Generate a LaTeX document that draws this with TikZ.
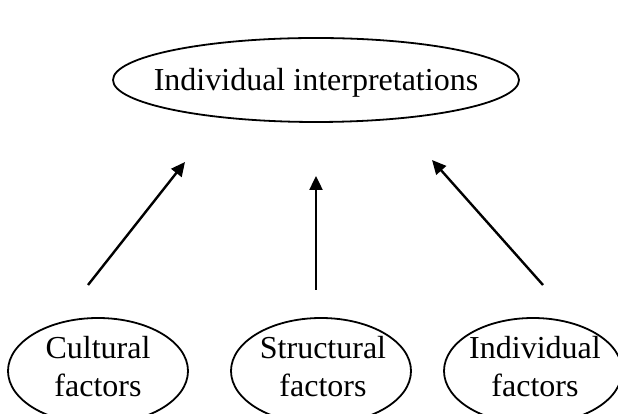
\documentclass[tikz,border=0pt]{standalone}
\usepackage{fontspec}
\setmainfont{Liberation Serif}
\usetikzlibrary{arrows.meta,shapes.geometric}
\begin{document}
\begin{tikzpicture}[x=1pt,y=1pt,
  oval/.style={ellipse, draw, line width=1.8pt, inner sep=0pt},
  label text/.style={inner sep=0pt, align=center,
    font=\fontsize{32}{38}\selectfont},
  influence/.style={line width=2.4pt, -{Triangle[length=14pt,width=13pt]}}]
  \useasboundingbox (0,0) rectangle (618,414);
  \clip (0,0) rectangle (618,414);
  % outcome
  \node[oval, minimum width=406pt, minimum height=84pt] (interp) at (316,334) {};
  \node[label text] (interpT) at ([yshift=-3pt]interp.center)
    {Individual interpretations};
  % contributing factors
  \node[oval, minimum width=180pt, minimum height=106pt] (cult) at (98,43) {};
  \node[label text] (cultT) at ([yshift=4pt]cult.center) {Cultural\\factors};
  \node[oval, minimum width=180pt, minimum height=106pt] (struct) at (321,43) {};
  \node[label text] (structT) at ([xshift=2pt,yshift=4pt]struct.center)
    {Structural\\factors};
  \node[oval, minimum width=178pt, minimum height=106pt] (indiv) at (533,43) {};
  \node[label text] (indivT) at ([xshift=2pt,yshift=4pt]indiv.center)
    {Individual\\factors};
  % arrow end points
  \coordinate (cultS) at (88,129);
  \coordinate (cultE) at (185,252);
  \coordinate (structS) at (316,124);
  \coordinate (structE) at (316,238);
  \coordinate (indivS) at (543,129);
  \coordinate (indivE) at (432,254);
  \draw[influence] (cultS) -- (cultE);
  \draw[influence] (structS) -- (structE);
  \draw[influence] (indivS) -- (indivE);
\end{tikzpicture}
\end{document}
